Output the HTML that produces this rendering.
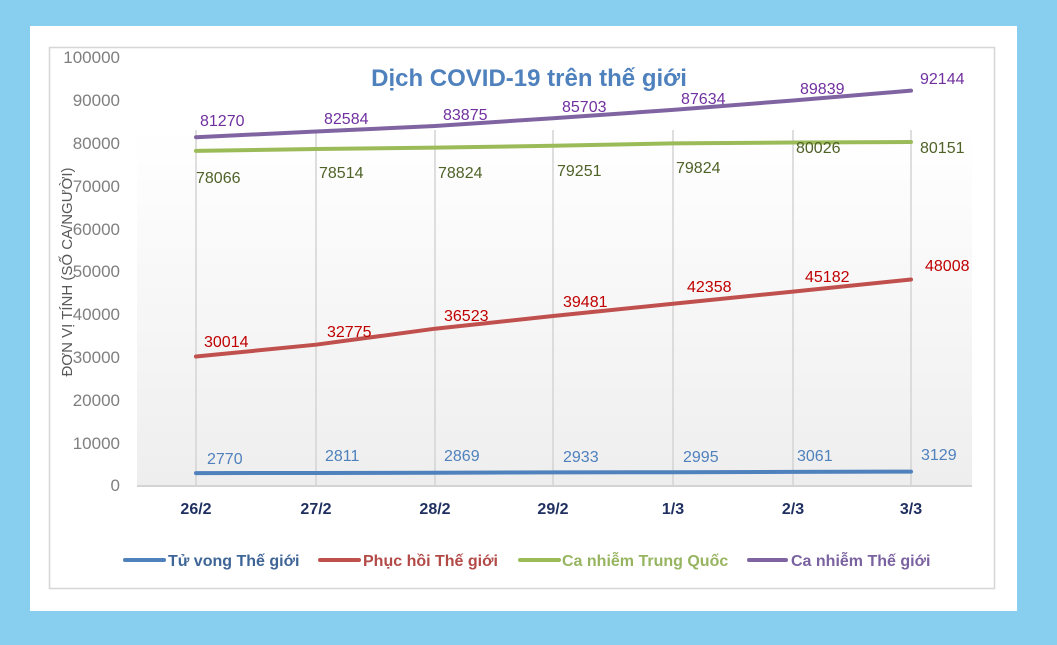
<!DOCTYPE html>
<html><head><meta charset="utf-8"><style>
body{margin:0;background:#88ceee;}
svg{display:block}
text{font-family:"Liberation Sans",sans-serif}
</style></head><body>
<svg width="1057" height="645" viewBox="0 0 1057 645" xmlns="http://www.w3.org/2000/svg">
<defs><linearGradient id="g" x1="0" y1="0" x2="0" y2="1"><stop offset="0" stop-color="#ffffff"/><stop offset="1" stop-color="#eeeeee"/></linearGradient></defs>
<rect x="0" y="0" width="1057" height="645" fill="#88ceee"/>
<rect x="30" y="26" width="987" height="585" fill="#fff"/>
<rect x="49.5" y="47.5" width="945" height="541" fill="#fff" stroke="#d6d6d6" stroke-width="1.5"/>
<rect x="137" y="130" width="835" height="356" fill="url(#g)"/>
<g stroke="#d4d4d4" stroke-width="1.5">
<line x1="196" y1="130" x2="196" y2="486"/><line x1="316" y1="130" x2="316" y2="486"/><line x1="435" y1="130" x2="435" y2="486"/><line x1="553" y1="130" x2="553" y2="486"/><line x1="673" y1="130" x2="673" y2="486"/><line x1="793" y1="130" x2="793" y2="486"/><line x1="911" y1="130" x2="911" y2="486"/>
</g>
<line x1="137" y1="486" x2="972" y2="486" stroke="#d4d4d4" stroke-width="2"/>
<g font-size="17" fill="#7f7f7f" text-anchor="end">
<text x="120" y="63">100000</text><text x="120" y="106">90000</text><text x="120" y="149">80000</text><text x="120" y="192">70000</text><text x="120" y="235">60000</text><text x="120" y="277">50000</text><text x="120" y="320">40000</text><text x="120" y="363">30000</text><text x="120" y="406">20000</text><text x="120" y="449">10000</text><text x="120" y="491">0</text>
</g>
<text transform="translate(72,272) rotate(-90)" text-anchor="middle" font-size="15" fill="#595959">ĐƠN VỊ TÍNH (SỐ CA/NGƯỜI)</text>
<text x="529" y="86" text-anchor="middle" font-size="24" font-weight="bold" fill="#4f81bd">Dịch COVID-19 trên thế giới</text>
<g fill="none" stroke-width="4" stroke-linecap="round">
<polyline stroke="#8064a2" points="196,137.2 316,131.5 435,126 553,118.2 673,109.9 793,100.5 911,90.6"/>
<polyline stroke="#9bbb59" points="196,150.9 316,149 435,147.6 553,145.8 673,143.4 793,142.5 911,142"/>
<polyline stroke="#c0504d" points="196,356.5 316,344.7 435,328.7 553,316 673,303.7 793,291.6 911,279.5"/>
<polyline stroke="#4f81bd" points="196,473.1 316,473 435,472.7 553,472.4 673,472.2 793,471.9 911,471.6"/>
</g>
<g font-size="16">
<g fill="#7030a0"><text x="200" y="126">81270</text><text x="324" y="124">82584</text><text x="443" y="120">83875</text><text x="562" y="112">85703</text><text x="681" y="104">87634</text><text x="800" y="94">89839</text><text x="920" y="84">92144</text></g>
<g fill="#4f6228"><text x="196" y="183">78066</text><text x="319" y="178">78514</text><text x="438" y="178">78824</text><text x="557" y="176">79251</text><text x="676" y="173">79824</text><text x="796" y="153">80026</text><text x="920" y="153">80151</text></g>
<g fill="#c00000"><text x="204" y="347">30014</text><text x="327" y="337">32775</text><text x="444" y="321">36523</text><text x="563" y="307">39481</text><text x="687" y="292">42358</text><text x="805" y="282">45182</text><text x="925" y="271">48008</text></g>
<g fill="#4f81bd"><text x="207" y="464">2770</text><text x="325" y="461">2811</text><text x="444" y="461">2869</text><text x="563" y="462">2933</text><text x="683" y="462">2995</text><text x="797" y="461">3061</text><text x="921" y="460">3129</text></g>
</g>
<g font-size="16" font-weight="bold" fill="#1f2f5f" text-anchor="middle">
<text x="196" y="514">26/2</text><text x="316" y="514">27/2</text><text x="435" y="514">28/2</text><text x="553" y="514">29/2</text><text x="673" y="514">1/3</text><text x="793" y="514">2/3</text><text x="911" y="514">3/3</text>
</g>
<g stroke-width="4" stroke-linecap="round">
<line x1="125" y1="560" x2="164" y2="560" stroke="#4f81bd"/>
<line x1="320" y1="560" x2="359" y2="560" stroke="#c0504d"/>
<line x1="520" y1="560" x2="559" y2="560" stroke="#9bbb59"/>
<line x1="749" y1="560" x2="786" y2="560" stroke="#8064a2"/>
</g>
<g font-size="16" font-weight="bold">
<text x="168" y="566" fill="#3e6596">Tử vong Thế giới</text>
<text x="363" y="566" fill="#b24a47">Phục hồi Thế giới</text>
<text x="562" y="566" fill="#97b561">Ca nhiễm Trung Quốc</text>
<text x="791" y="566" fill="#7a62a0">Ca nhiễm Thế giới</text>
</g>
</svg>
</body></html>
